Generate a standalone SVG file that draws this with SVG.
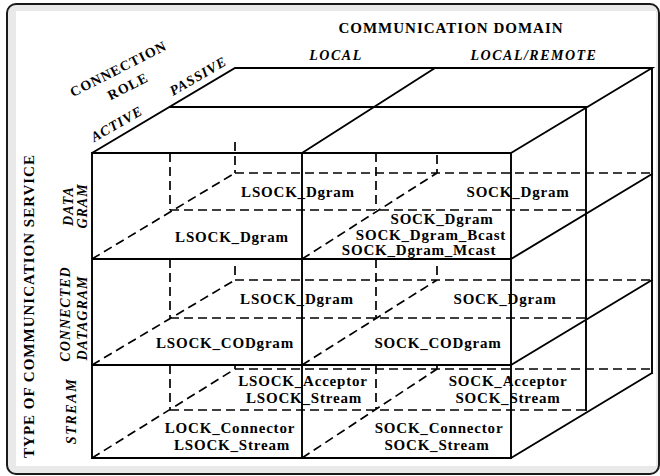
<svg xmlns="http://www.w3.org/2000/svg" width="660" height="476" viewBox="0 0 660 476">
<style>
.s{fill:none;stroke:#000;stroke-width:1.9;stroke-linecap:square}
.d{fill:none;stroke:#000;stroke-width:1.7;stroke-dasharray:9 5}
.t{font-family:"Liberation Serif","Times New Roman",serif;font-weight:bold;font-size:15px;letter-spacing:0.8px;text-anchor:middle;fill:#000}
.h{font-size:15px;letter-spacing:1px}
.a{font-size:14px;letter-spacing:1px}
.i{font-style:italic}
</style>
<rect width="660" height="476" fill="#fff"/>
<g id="frame">
<rect x="7" y="4" width="652" height="470" rx="9" fill="#e9e9e9" stroke="#1a1a1a" stroke-width="2"/>
<rect x="16" y="11" width="640" height="455" fill="#fff"/>
</g>
<g id="connectors">
<path class="s" d="M92 153H511V458H92Z M302 153V458 M92 259H511 M92 365H511 M92 153L235 68H652L511 153 M170 107H586 M302 153L435 68 M586 107V410 M652 68V373 M511 259L652 174 M511 365L652 280 M511 458L652 373"/>
<path class="d" d="M170 153V210 M376 153V210 M170 210H586 M235 142V173 M437 155V173 M235 173H652 M92 259L235 173 M302 259L437 173"/>
<path class="d" d="M170 259V318 M376 259V318 M170 318H586 M235 266V280 M437 266V280 M235 280H652 M92 365L235 280 M302 365L437 280"/>
<path class="d" d="M170 365V410 M376 365V410 M170 410H586 M235 364V369 M437 364V369 M235 369H652 M92 458L235 369 M302 458L437 369"/>
</g>
<g id="axis-domain">
<text class="t h" x="451" y="33">COMMUNICATION DOMAIN</text>
<text class="t a i" style="letter-spacing:1.5px" x="336" y="60">LOCAL</text>
<text class="t a i" style="letter-spacing:1.5px" x="534" y="60">LOCAL/REMOTE</text>
</g>
<g id="axis-role">
<text class="t a" transform="translate(120.5,73) rotate(-27)">CONNECTION</text>
<text class="t a" transform="translate(130,90.5) rotate(-27)">ROLE</text>
<text class="t a i" transform="translate(200.5,80) rotate(-30)">PASSIVE</text>
<text class="t a i" transform="translate(119,128) rotate(-30)">ACTIVE</text>
</g>
<g id="axis-service">
<text class="t" style="letter-spacing:1px" transform="translate(34,306) rotate(-90)">TYPE OF COMMUNICATION SERVICE</text>
<text class="t a i" transform="translate(73,206) rotate(-90)">DATA</text>
<text class="t a i" transform="translate(87,206) rotate(-90)">GRAM</text>
<text class="t a i" transform="translate(70,314) rotate(-90)">CONNECTED</text>
<text class="t a i" transform="translate(87,318) rotate(-90)">DATAGRAM</text>
<text class="t a i" style="letter-spacing:1.6px" transform="translate(76,411) rotate(-90)">STREAM</text>
</g>
<g id="dgram-local-passive"><text class="t" x="298" y="197">LSOCK_Dgram</text></g>
<g id="dgram-local-active"><text class="t" x="232" y="242">LSOCK_Dgram</text></g>
<g id="dgram-remote-passive"><text class="t" x="518" y="197">SOCK_Dgram</text></g>
<g id="dgram-remote-active">
<text class="t" x="442" y="224">SOCK_Dgram</text>
<text class="t" x="431" y="239.5">SOCK_Dgram_Bcast</text>
<text class="t" x="419" y="254.5">SOCK_Dgram_Mcast</text>
</g>
<g id="codgram-local-passive"><text class="t" x="297" y="304">LSOCK_Dgram</text></g>
<g id="codgram-local-active"><text class="t" x="225" y="348">LSOCK_CODgram</text></g>
<g id="codgram-remote-passive"><text class="t" x="505" y="304">SOCK_Dgram</text></g>
<g id="codgram-remote-active"><text class="t" x="438" y="348">SOCK_CODgram</text></g>
<g id="stream-local-passive">
<text class="t" x="303" y="385.5">LSOCK_Acceptor</text>
<text class="t" x="304" y="403">LSOCK_Stream</text>
</g>
<g id="stream-remote-passive">
<text class="t" x="508" y="386">SOCK_Acceptor</text>
<text class="t" x="508" y="403">SOCK_Stream</text>
</g>
<g id="stream-local-active">
<text class="t" x="230" y="433">LOCK_Connector</text>
<text class="t" x="232" y="449.5">LSOCK_Stream</text>
</g>
<g id="stream-remote-active">
<text class="t" x="439" y="433">SOCK_Connector</text>
<text class="t" x="437" y="449.5">SOCK_Stream</text>
</g>
</svg>
